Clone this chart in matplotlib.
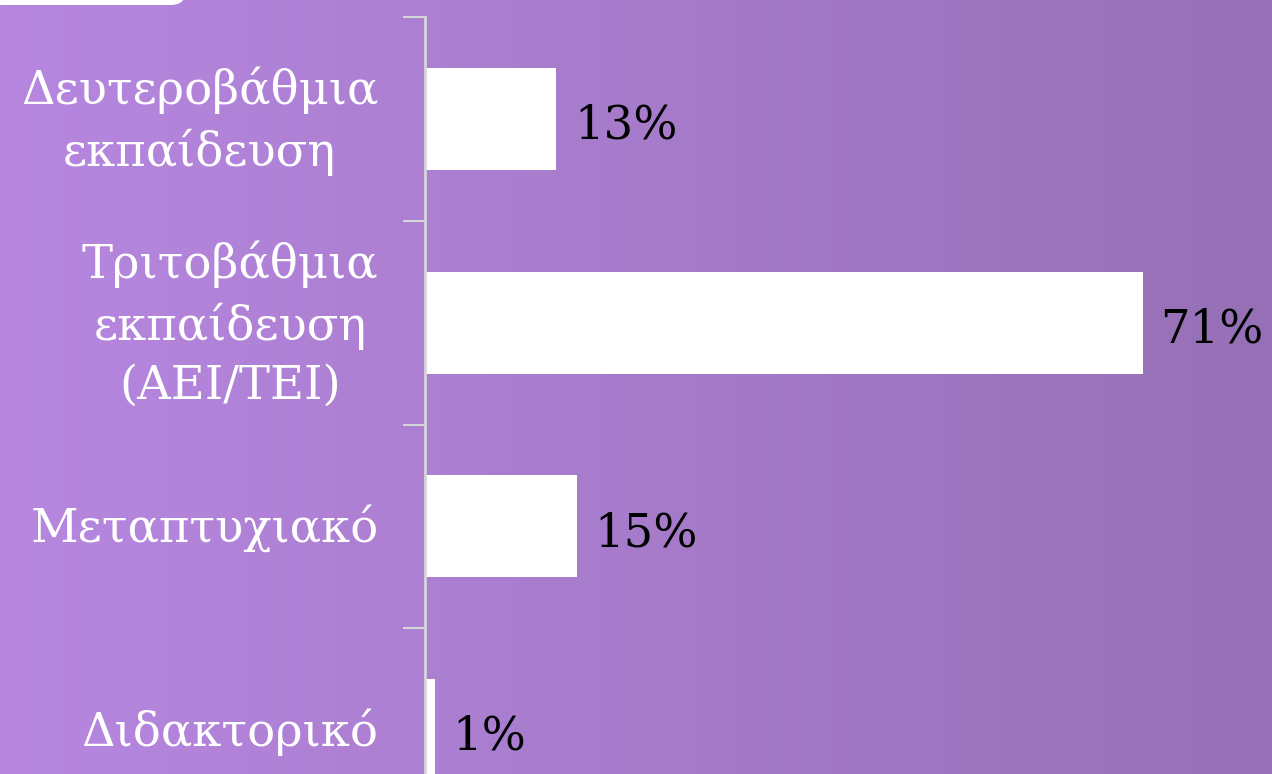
import numpy as np
import matplotlib
matplotlib.use("Agg")
import matplotlib.pyplot as plt
from matplotlib.patches import FancyBboxPatch
from matplotlib.colors import LinearSegmentedColormap

categories = ["Δευτεροβάθμια\nεκπαίδευση", "Τριτοβάθμια\nεκπαίδευση\n(ΑΕΙ/ΤΕΙ)", "Μεταπτυχιακό", "Διδακτορικό"]
values = [13, 71, 15, 1]
value_labels = ["13%", "71%", "15%", "1%"]

W, H = 1272, 774
fig = plt.figure(figsize=(W / 100, H / 100), dpi=100)

# gradient background
bg = fig.add_axes([0, 0, 1, 1], zorder=0)
cmap = LinearSegmentedColormap.from_list("bg", ["#b787e0", "#9670b6"])
bg.imshow(np.linspace(0, 1, 256)[None, :], aspect="auto", cmap=cmap, extent=[0, 1, 0, 1])
bg.set_xlim(0, 1); bg.set_ylim(0, 1)
bg.axis("off")
# white rounded box peeking at top-left
bg.add_patch(FancyBboxPatch((-0.05, 1 - 5 / H), 0.05 + 186 / W, 0.1,
                            boxstyle="round,pad=0,rounding_size=0.012",
                            fc="white", ec="none", mutation_aspect=W / H))

FONT = "DejaVu Serif"
FS = 33.5

left = 425 / W
top = 1 - 17 / H
bottom = 1 - 832 / H
ax = fig.add_axes([left, bottom, 1 - left, top - bottom], zorder=1)
ax.patch.set_alpha(0)
n = len(categories)
y = np.arange(n)
ax.barh(y, values, height=0.5, color="white")
ax.set_ylim(n - 0.5, -0.5)
ax.set_xlim(0, (W - 425) / 10.11)
for yi, v, lab in zip(y, values, value_labels):
    ax.text(v + 1.75, yi + 0.035, lab, va="center", ha="left", fontsize=FS,
            family=FONT, color="black")

ax.set_yticks(y)
ax.set_yticklabels([])
for yi, c in zip(y, categories):
    ax.text(-4.6, yi + 0.01, c, va="center", ha="right", multialignment="center",
            fontsize=FS, family=FONT, color="white", linespacing=1.4)
ax.tick_params(axis="y", which="major", length=0)
ax.set_yticks(np.arange(n) - 0.5, minor=True)
ax.tick_params(axis="y", which="minor", length=16, width=1.5, color="#d6d6d6")
ax.set_xticks([])
for s in ["top", "right", "bottom"]:
    ax.spines[s].set_visible(False)
ax.spines["left"].set_color("#d6d6d6")
ax.spines["left"].set_linewidth(2)

fig.savefig("out.png", dpi=100)
